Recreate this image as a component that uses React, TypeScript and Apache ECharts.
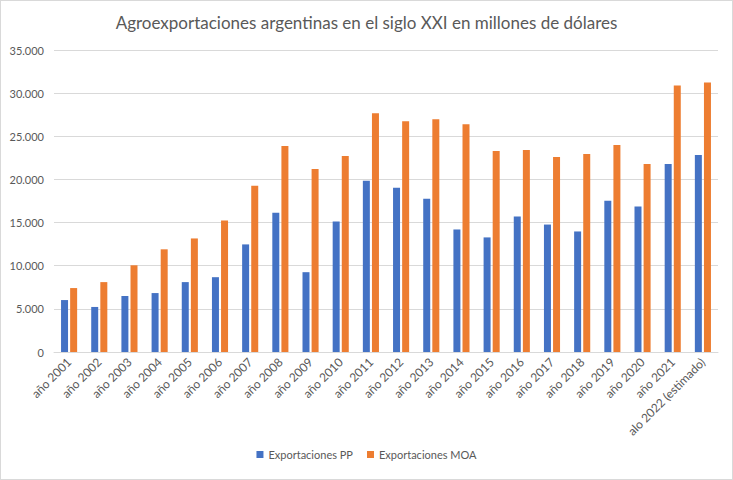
import React, { useEffect, useRef } from "react";
import * as echarts from "echarts";

const categories = [
  "año 2001", "año 2002", "año 2003", "año 2004", "año 2005", "año 2006",
  "año 2007", "año 2008", "año 2009", "año 2010", "año 2011", "año 2012",
  "año 2013", "año 2014", "año 2015", "año 2016", "año 2017", "año 2018",
  "año 2019", "año 2020", "año 2021", "alo 2022 (estimado)",
];

const exportacionesPP = [
  6020, 5220, 6490, 6830, 8100, 8670, 12470, 16150, 9250, 15120, 19840,
  19030, 17770, 14200, 13280, 15690, 14770, 13970, 17540, 16850, 21800, 22830,
];

const exportacionesMOA = [
  7410, 8100, 10050, 11900, 13160, 15230, 19260, 23870, 21220, 22720, 27670,
  26750, 26980, 26400, 23290, 23410, 22600, 22950, 23980, 21800, 30890, 31240,
];

const yTicks = { min: 0, max: 35000, interval: 5000 };

const fmt = (v: number) => {
  if (v === 0) return "0";
  return String(v).replace(/\B(?=(\d{3})+(?!\d))/g, ".");
};

export default function App() {
  const ref = useRef<HTMLDivElement>(null);
  useEffect(() => {
    document.body.style.margin = "0";
    const chart = echarts.init(ref.current!, undefined, { renderer: "svg" });
    const font = "Lato, 'Open Sans', sans-serif";
    chart.setOption({
      animation: false,
      backgroundColor: "#ffffff",
      textStyle: { fontFamily: font },
      title: {
        text: "Agroexportaciones argentinas en el siglo XXI en millones de dólares",
        left: "center",
        top: 8,
        textStyle: { fontFamily: font, fontSize: 17, fontWeight: "normal", color: "#595959" },
      },
      legend: {
        bottom: 14,
        left: "center",
        itemWidth: 7,
        itemHeight: 7,
        itemGap: 14,
        icon: "rect",
        textStyle: { fontFamily: font, fontSize: 11, color: "#595959" },
        data: ["Exportaciones PP", "Exportaciones MOA"],
      },
      grid: { left: 53, right: 14, top: 49, bottom: 127, containLabel: false },
      xAxis: {
        type: "category",
        data: categories,
        axisLine: { lineStyle: { color: "#d9d9d9" } },
        axisTick: { show: false },
        axisLabel: {
          rotate: 45,
          interval: 0,
          fontSize: 12,
          color: "#595959",
          fontFamily: font,
          margin: 8,
        },
      },
      yAxis: {
        type: "value",
        min: yTicks.min,
        max: yTicks.max,
        interval: yTicks.interval,
        axisLine: { show: false },
        axisTick: { show: false },
        splitLine: { lineStyle: { color: "#d9d9d9" } },
        axisLabel: {
          fontSize: 11,
          color: "#595959",
          fontFamily: font,
          margin: 10,
          formatter: (v: number) => fmt(v),
        },
      },
      series: [
        {
          name: "Exportaciones PP",
          type: "bar",
          data: exportacionesPP,
          itemStyle: { color: "#4472c4" },
          barWidth: 7,
          barGap: "30%",
        },
        {
          name: "Exportaciones MOA",
          type: "bar",
          data: exportacionesMOA,
          itemStyle: { color: "#ed7d31" },
          barWidth: 7,
          barGap: "30%",
        },
      ],
    });
    return () => chart.dispose();
  }, []);
  return (
    <div
      style={{
        width: 733,
        height: 480,
        boxSizing: "border-box",
        border: "1px solid #d9d9d9",
        background: "#fff",
      }}
    >
      <div ref={ref} style={{ width: 731, height: 478 }} />
    </div>
  );
}
